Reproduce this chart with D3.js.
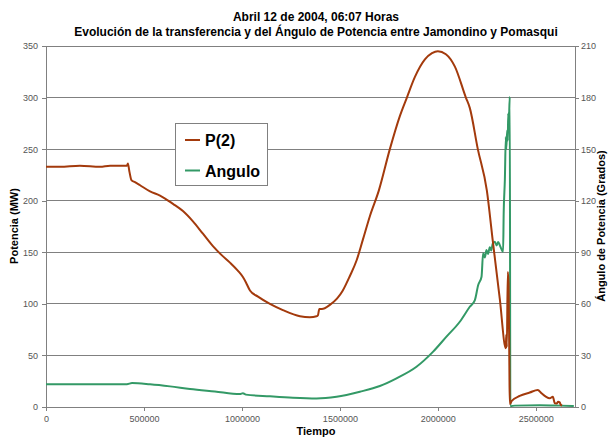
<!DOCTYPE html>
<html><head><meta charset="utf-8">
<script src="https://cdn.jsdelivr.net/npm/d3@7"></script>
<style>body{margin:0;background:#fff;}svg{display:block;font-family:"Liberation Sans",Arial,sans-serif;}</style>
</head><body>
<svg id="c" width="609" height="438"></svg>
<script>
const titleLines = ["Abril 12 de 2004, 06:07 Horas",
  "Evolución de la transferencia y del Ángulo de Potencia entre Jamondino y Pomasqui"];
const xTicks = [0, 500000, 1000000, 1500000, 2000000, 2500000];
const yLeftTicks = [0, 50, 100, 150, 200, 250, 300, 350];
const yRightTicks = [0, 30, 60, 90, 120, 150, 180, 210];
const seriesNames = ["P(2)", "Angulo"];

// P(2) in MW
const pTime = [0,71000,173000,276000,327000,378000,413000,418000,426000,436000,454000,480000,531000,582000,648000,699000,750000,801000,852000,898000,939000,980000,1005000,1020000,1041000,1082000,1143000,1209000,1296000,1347000,1381000,1388000,1395000,1408000,1449000,1485000,1515000,1551000,1585000,1617000,1653000,1699000,1755000,1806000,1842000,1883000,1934000,1970000,2000000,2041000,2087000,2143000,2163000,2204000,2250000,2281000,2316000,2347000,2349000,2352000,2357000,2361000,2365000,2367000,2372000,2377000,2418000,2469000,2510000,2529000,2551000,2571000,2587000,2597000,2607000,2614000,2622000,2626000,2634000];
const pVal = [233,233,234,233,234,234,234,236,228,220,218,215,209,205,197,190,180,168,156,147,140,132,126,121,113,107,100,94,88,87,88,89,95,95,99,105,113,127,142,162,185,210,250,282,300,320,337,343,345,342,330,300,290,250,210,160,105,57,70,58,131,120,40,3,4,6,10.7,14,16.5,13.3,10,8.4,10,3.6,3.5,5,4.5,2.6,1.5];

// Angulo in degrees
const aTime = [0,276000,413000,439000,531000,633000,735000,862000,990000,1005000,1020000,1143000,1260000,1381000,1483000,1602000,1704000,1789000,1891000,1976000,2044000,2112000,2163000,2189000,2206000,2223000,2231000,2240000,2248000,2256000,2265000,2272000,2280000,2291000,2300000,2308000,2316000,2324000,2333000,2336000,2342000,2347000,2349000,2354000,2357000,2359000,2362000,2367000,2370000,2393000,2520000,2622000,2694000];
const aVal = [13.3,13.3,13.3,13.9,13.2,12,10.5,9,7.5,8,7.2,6.2,5.4,5.0,6,8.9,12.2,16.7,23.4,32.2,40.9,49.6,58.3,62.2,71,75.8,89.4,87,91.3,89,93,91,95,96.2,94,96,94.2,92,90.3,112.7,132,157,150,161,155,170.8,165,180.5,0.5,0.8,1.0,0.8,0.6];

const svg = d3.select("#c");
const L = 46, R = 575, T = 46, B = 407;
const x = d3.scaleLinear().domain([0, 2700000]).range([L, R]);
const yL = d3.scaleLinear().domain([0, 350]).range([B, T]);
const yR = d3.scaleLinear().domain([0, 210]).range([B, T]);
const grey = "#808080";

// gridlines
svg.append("g").selectAll("line").data(yLeftTicks.filter(d => d > 0)).join("line")
  .attr("x1", L).attr("x2", R).attr("y1", d => yL(d)).attr("y2", d => yL(d))
  .attr("stroke", grey).attr("stroke-width", 1).attr("shape-rendering", "crispEdges");

function styleAxis(g) {
  g.selectAll("path").attr("stroke", grey).attr("shape-rendering", "crispEdges");
  g.selectAll("line").attr("stroke", grey).attr("shape-rendering", "crispEdges");
  g.selectAll("text").attr("fill", "#555").attr("font-size", "9px")
    .attr("font-family", "\"Liberation Sans\",Arial,sans-serif");
}
const fmt = d3.format("d");
svg.append("g").attr("transform", `translate(0,${B})`)
  .call(d3.axisBottom(x).tickValues(xTicks).tickFormat(fmt).tickSize(4).tickSizeOuter(0).tickPadding(5))
  .call(styleAxis);
svg.append("g").attr("transform", `translate(${L},0)`)
  .call(d3.axisLeft(yL).tickValues(yLeftTicks).tickFormat(fmt).tickSize(4).tickSizeOuter(0).tickPadding(4))
  .call(styleAxis);
svg.append("g").attr("transform", `translate(${R},0)`)
  .call(d3.axisRight(yR).tickValues(yRightTicks).tickFormat(fmt).tickSize(4).tickSizeOuter(0).tickPadding(2))
  .call(styleAxis);

// lines
const lineP = d3.line().x((d, i) => x(pTime[i])).y(d => yL(d)).curve(d3.curveMonotoneX);
const lineA = d3.line().x((d, i) => x(aTime[i])).y(d => yR(d)).curve(d3.curveMonotoneX);
svg.append("path").attr("d", lineA(aVal)).attr("fill", "none")
  .attr("stroke", "#339966").attr("stroke-width", 2).attr("stroke-linejoin", "round");
svg.append("path").attr("d", lineP(pVal)).attr("fill", "none")
  .attr("stroke", "#A33A0C").attr("stroke-width", 2).attr("stroke-linejoin", "round");

// titles
svg.append("g").selectAll("text").data(titleLines).join("text")
  .attr("x", 316).attr("y", (d, i) => 21 + i * 14.5).attr("text-anchor", "middle")
  .attr("font-weight", "bold").attr("font-size", "12px").attr("fill", "#000").text(d => d);

svg.append("text").attr("transform", "translate(18,226) rotate(-90)")
  .attr("text-anchor", "middle").attr("font-weight", "bold").attr("font-size", "11px").text("Potencia (MW)");
svg.append("text").attr("transform", "translate(605,226) rotate(-90)")
  .attr("text-anchor", "middle").attr("font-weight", "bold").attr("font-size", "11px").text("Ángulo de Potencia (Grados)");
svg.append("text").attr("x", 316).attr("y", 435).attr("text-anchor", "middle")
  .attr("font-weight", "bold").attr("font-size", "11px").text("Tiempo");

// legend
const lg = svg.append("g");
lg.append("rect").attr("x", 175.5).attr("y", 123.5).attr("width", 92).attr("height", 62)
  .attr("fill", "#fff").attr("stroke", grey).attr("stroke-width", 1);
const legColors = ["#A33A0C", "#339966"];
seriesNames.forEach((n, i) => {
  const cy = 140 + i * 30.5;
  lg.append("line").attr("x1", 185).attr("x2", 200).attr("y1", cy).attr("y2", cy)
    .attr("stroke", legColors[i]).attr("stroke-width", 2);
  lg.append("text").attr("x", 205).attr("y", cy + 6).attr("font-weight", "bold")
    .attr("font-size", "16px").attr("fill", "#000").text(n);
});
</script>
</body></html>
